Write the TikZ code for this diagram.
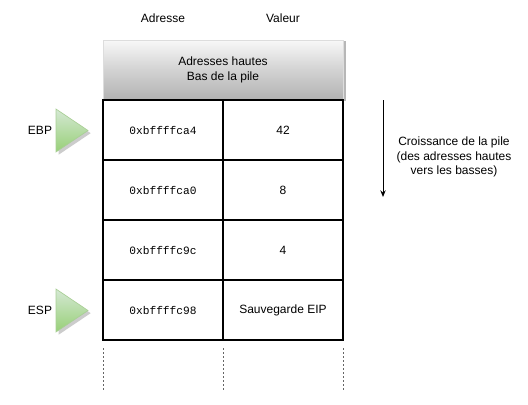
\documentclass[tikz,border=0pt]{standalone}
\usepackage{fontspec}
\setmainfont{Liberation Sans}
\setmonofont{Liberation Mono}
\usepackage{tikz}
\usetikzlibrary{arrows.meta}
\usetikzlibrary{shadows}
\definecolor{headtop}{HTML}{F8F8F8}
\definecolor{headmid}{HTML}{D2D2D2}
\definecolor{headbot}{HTML}{B2B2B2}
\definecolor{headline}{HTML}{DDDDDD}
\definecolor{ptrtop}{HTML}{D5E8D4}
\definecolor{ptrbot}{HTML}{97D077}
\definecolor{ptrline}{HTML}{A9CF96}

\begin{document}
\begin{tikzpicture}[
		x=0.75pt, y=-0.75pt,
		every node/.style={font=\fontsize{9}{11}\selectfont},
		cell/.style={draw=black, line width=0.9pt, minimum width=90pt,
			minimum height=45pt, inner sep=0pt, outer sep=0pt},
		addrcell/.style={cell, font=\fontsize{8.4}{10}\ttfamily},
		head/.style={draw=headline, line width=0.75pt, minimum width=180pt,
			minimum height=45pt, align=center, top color=headtop,
			bottom color=headbot, middle color=headmid,
			drop shadow={shadow xshift=2.2pt, shadow yshift=-1pt,
				fill=black!40, opacity=0.7}},
		ptr/.style={draw=ptrline, line width=0.5pt, top color=ptrtop,
			bottom color=ptrbot,
			drop shadow={shadow xshift=2pt, shadow yshift=-2pt,
				fill=black!25, opacity=0.8}},
		tail/.style={gray!80!black, line width=0.75pt,
			dash pattern=on 1.5pt off 1.5pt}
	]
	\useasboundingbox (0,0) rectangle (528,404);

	% column titles
	\node (coladdr) at (163,18) {Adresse};
	\node (colval) at (283,18) {Valeur};

	% top of the stack
	\node[head] (top) at (223,70)
		{Adresses hautes\\Bas de la pile};

	% stack cells
	\node[addrcell] (addr1) at (163,130) {0xbffffca4};
	\node[cell] (val1) at (283,130) {42};
	\node[addrcell] (addr2) at (163,190) {0xbffffca0};
	\node[cell] (val2) at (283,190) {8};
	\node[addrcell] (addr3) at (163,250) {0xbffffc9c};
	\node[cell] (val3) at (283,250) {4};
	\node[addrcell] (addr4) at (163,310) {0xbffffc98};
	\node[cell] (val4) at (283,310) {Sauvegarde EIP};

	% rest of the stack
	\coordinate (tailL) at (103,390);
	\coordinate (tailM) at (223,390);
	\coordinate (tailR) at (343,390);
	\draw[tail] ([yshift=-6pt]addr4.south west) -- (tailL);
	\draw[tail] ([yshift=-6pt]addr4.south east) -- (tailM);
	\draw[tail] ([yshift=-6pt]val4.south east) -- (tailR);

	% registers
	\path[ptr] (56,109) -- (88,130.5) -- (56,152) -- cycle;
	\node (ebp) at (40,130) {EBP};
	\path[ptr] (56,289) -- (88,310.5) -- (56,332) -- cycle;
	\node (esp) at (40,310) {ESP};

	% growth direction
	\coordinate (growtop) at (383,100);
	\coordinate (growbot) at (383,197);
	\draw[-{Stealth[length=5pt, width=4pt]}, line width=0.75pt]
		(growtop) -- (growbot);
	\node[align=center] (grow) at (454,157)
		{Croissance de la pile\\(des adresses hautes\\vers les basses)};
\end{tikzpicture}
\end{document}
